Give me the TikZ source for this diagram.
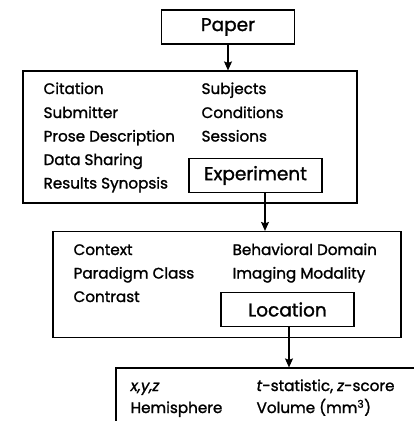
\documentclass[tikz,border=0pt]{standalone}
\usepackage{fontspec}
\setmainfont{Poppins}[FakeBold=1.4]
\usepackage{tikz}
\usetikzlibrary{arrows.meta,positioning}

\begin{document}
\begin{tikzpicture}[x=1pt,y=-1pt,>={Stealth[length=9pt,width=8pt,inset=1.5pt]},
    line width=1.2pt,font=\fontsize{15.2}{17}\selectfont]
  \tikzstyle{frame}=[draw,rectangle,inner sep=0pt]
  \tikzstyle{title}=[frame,minimum width=133pt,minimum height=34pt,
                     font=\fontsize{18.5}{20}\selectfont]
  \tikzstyle{item}=[anchor=base west,inner sep=0pt]
  \clip (0,0) rectangle (414,421);
  % paper level
  \node [title] (paper) at (228,27) {Paper};
  \node [frame,minimum width=334pt,minimum height=132pt] (paperbox) at (190,137) {};
  \node [item] (citation) at (43,94)  {Citation};
  \node [item] (submitter) at (43,118) {Submitter};
  \node [item] (prose) at (43,141.5) {Prose Description};
  \node [item] (sharing) at (43,165) {Data Sharing};
  \node [item] (synopsis) at (43,188.5) {Results Synopsis};
  \node [item] (subjects) at (201,94)  {Subjects};
  \node [item] (conditions) at (201,118) {Conditions};
  \node [item] (sessions) at (201,141.5) {Sessions};
  \node [title] (experiment) at (255.5,175.5) {Experiment};
  % experiment level
  \node [frame,minimum width=348pt,minimum height=106pt] (expbox) at (227,284.5) {};
  \node [item] (context) at (73,255) {Context};
  \node [item] (paradigm) at (73,278.5) {Paradigm Class};
  \node [item] (contrast) at (73,302) {Contrast};
  \node [item] (domain) at (232,255) {Behavioral Domain};
  \node [item] (modality) at (232,278.5) {Imaging Modality};
  \node [title] (location) at (287.5,309.5) {Location};
  % location level
  \node [frame,minimum width=320pt,minimum height=80pt] (locbox) at (276,408) {};
  \node [item] (xyz) at (130,391) {\textit{x,y,z}};
  \node [item] (hemisphere) at (130,413) {Hemisphere};
  \node [item] (stat) at (256,391) {\textit{t}-statistic, \textit{z}-score};
  \node [item] (volume) at (256,413) {Volume (mm\textsuperscript{3})};
  % links
  \draw [->] (paper.south) -- (paper.south |- paperbox.north);
  \draw [->] ([xshift=9.5pt]experiment.south) -- ([xshift=9.5pt]experiment.south |- expbox.north);
  \draw [->] ([xshift=1.5pt]location.south) -- ([xshift=1.5pt]location.south |- locbox.north);
\end{tikzpicture}
\end{document}
